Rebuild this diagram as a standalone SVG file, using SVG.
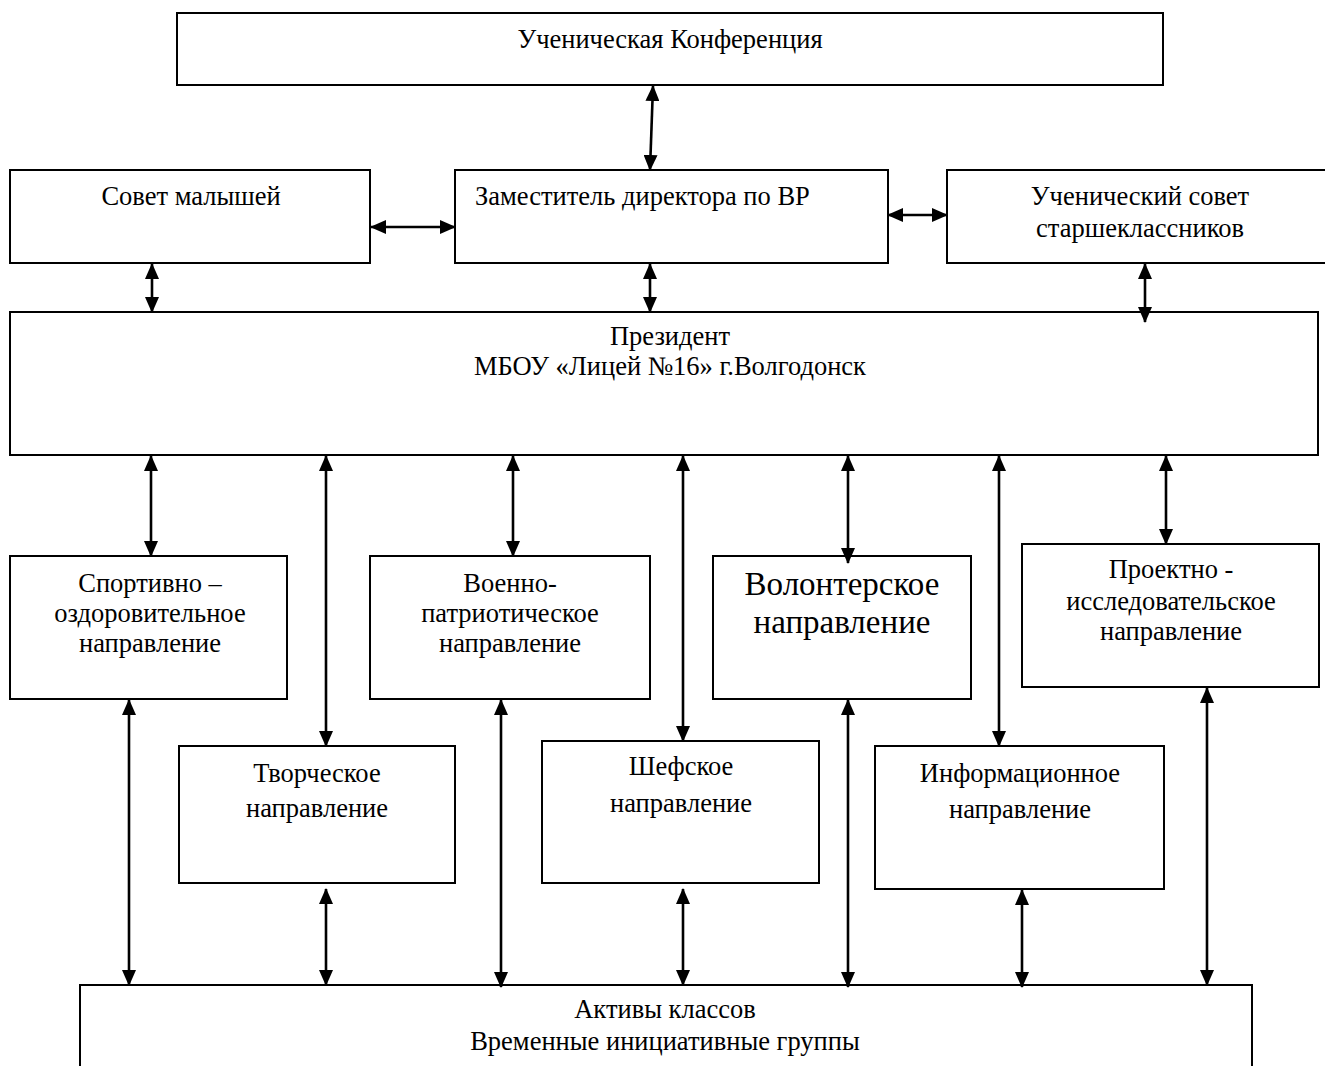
<svg xmlns="http://www.w3.org/2000/svg" width="1325" height="1066" viewBox="0 0 1325 1066">
<style>
.box{fill:#fff;stroke:#000;stroke-width:2}
.t{font-family:"Liberation Serif","Times New Roman",serif;font-size:26.5px;fill:#000;text-anchor:middle}
.big{font-size:33px}
.c{stroke:#000;stroke-width:2.6;fill:none;marker-start:url(#ah);marker-end:url(#ah)}
</style>
<defs>
<marker id="ah" viewBox="0 0 16 14" refX="15" refY="7" markerWidth="16" markerHeight="14" markerUnits="userSpaceOnUse" orient="auto-start-reverse">
<path d="M0,0 L16,7 L0,14 z" fill="#000"/>
</marker>
</defs>
<rect width="1325" height="1066" fill="#fff"/>
<g id="conf"><rect class="box" x="177" y="13" width="986" height="72"/><text class="t" x="670" y="48">Ученическая Конференция</text></g>
<g id="sovet-malyshey"><rect class="box" x="10" y="170" width="360" height="93"/><text class="t" x="191" y="205">Совет малышей</text></g>
<g id="zam"><rect class="box" x="455" y="170" width="433" height="93"/><text class="t" x="475" y="205" style="text-anchor:start">Заместитель директора по ВР</text></g>
<g id="uch-sovet"><rect class="box" x="947" y="170" width="385" height="93"/><text class="t" x="1140" y="205">Ученический совет</text><text class="t" x="1140" y="237">старшеклассников</text></g>
<g id="president"><rect class="box" x="10" y="312" width="1308" height="143"/><text class="t" x="670" y="345">Президент</text><text class="t" x="670" y="375">МБОУ «Лицей №16» г.Волгодонск</text></g>
<g id="sport"><rect class="box" x="10" y="556" width="277" height="143"/><text class="t" x="150" y="592">Спортивно –</text><text class="t" x="150" y="622">оздоровительное</text><text class="t" x="150" y="652">направление</text></g>
<g id="voenno"><rect class="box" x="370" y="556" width="280" height="143"/><text class="t" x="510" y="592">Военно-</text><text class="t" x="510" y="622">патриотическое</text><text class="t" x="510" y="652">направление</text></g>
<g id="volonter"><rect class="box" x="713" y="556" width="258" height="143"/><text class="t big" x="842" y="595">Волонтерское</text><text class="t big" x="842" y="633">направление</text></g>
<g id="proekt"><rect class="box" x="1022" y="544" width="297" height="143"/><text class="t" x="1171" y="578">Проектно -</text><text class="t" x="1171" y="610">исследовательское</text><text class="t" x="1171" y="640">направление</text></g>
<g id="tvorch"><rect class="box" x="179" y="746" width="276" height="137"/><text class="t" x="317" y="782">Творческое</text><text class="t" x="317" y="817">направление</text></g>
<g id="shef"><rect class="box" x="542" y="741" width="277" height="142"/><text class="t" x="681" y="775">Шефское</text><text class="t" x="681" y="812">направление</text></g>
<g id="inform"><rect class="box" x="875" y="746" width="289" height="143"/><text class="t" x="1020" y="782">Информационное</text><text class="t" x="1020" y="818">направление</text></g>
<g id="aktivy"><rect class="box" x="80" y="985" width="1172" height="90"/><text class="t" x="665" y="1018">Активы классов</text><text class="t" x="665" y="1050">Временные инициативные группы</text></g>
<g id="connectors">
<line class="c" x1="653" y1="86" x2="650" y2="170"/>
<line class="c" x1="371" y1="227" x2="455" y2="227"/>
<line class="c" x1="888" y1="215" x2="947" y2="215"/>
<line class="c" x1="152" y1="264" x2="152" y2="312"/>
<line class="c" x1="650" y1="264" x2="650" y2="312"/>
<line class="c" x1="1145" y1="264" x2="1145" y2="322"/>
<line class="c" x1="151" y1="456" x2="151" y2="556"/>
<line class="c" x1="326" y1="456" x2="326" y2="746"/>
<line class="c" x1="513" y1="456" x2="513" y2="556"/>
<line class="c" x1="683" y1="456" x2="683" y2="741"/>
<line class="c" x1="848" y1="456" x2="848" y2="563"/>
<line class="c" x1="999" y1="456" x2="999" y2="746"/>
<line class="c" x1="1166" y1="456" x2="1166" y2="544"/>
<line class="c" x1="129" y1="700" x2="129" y2="985"/>
<line class="c" x1="326" y1="889" x2="326" y2="985"/>
<line class="c" x1="501" y1="700" x2="501" y2="987"/>
<line class="c" x1="683" y1="889" x2="683" y2="985"/>
<line class="c" x1="848" y1="700" x2="848" y2="987"/>
<line class="c" x1="1022" y1="890" x2="1022" y2="987"/>
<line class="c" x1="1207" y1="688" x2="1207" y2="985"/>
</g>
</svg>
